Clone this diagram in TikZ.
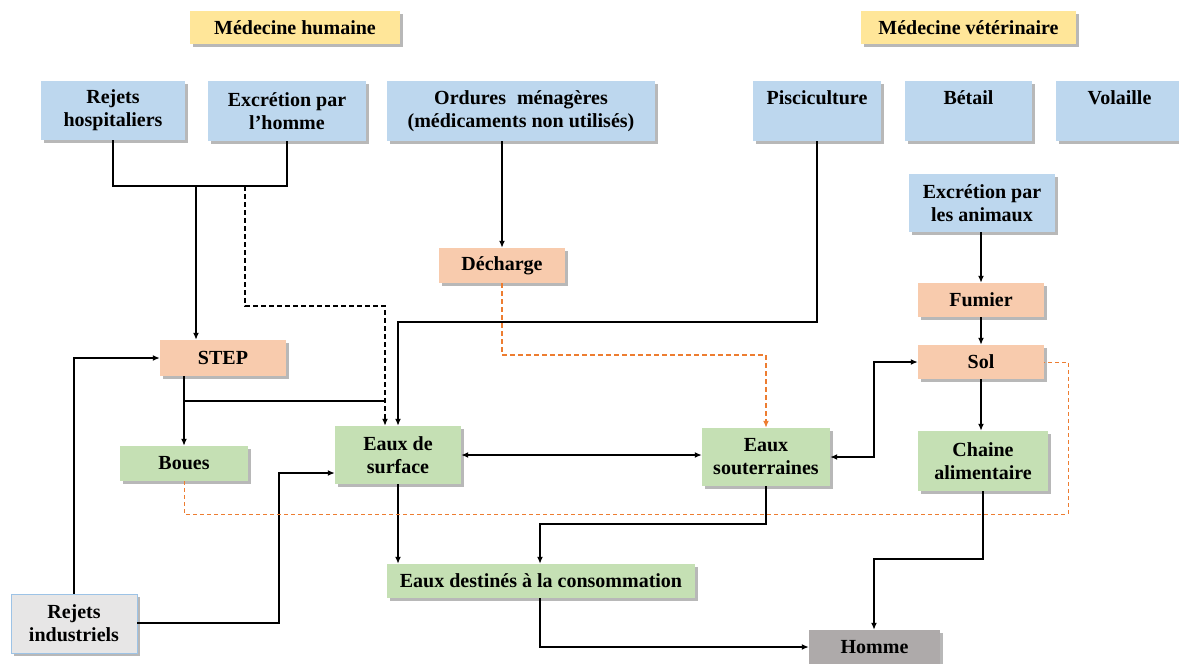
\documentclass[tikz,border=0pt]{standalone}
\usepackage{fontspec}
\setmainfont{Liberation Serif}
\usetikzlibrary{shadows,arrows.meta,calc}
\definecolor{cyellow}{HTML}{FFE699}
\definecolor{cblue}{HTML}{BDD7EE}
\definecolor{corange}{HTML}{F8CBAD}
\definecolor{cgreen}{HTML}{C5E0B4}
\definecolor{cgray}{HTML}{E7E6E6}
\definecolor{cdgray}{HTML}{AEAAAA}
\definecolor{cborder}{HTML}{9DC3E6}
\definecolor{cline}{HTML}{ED7D31}
\newcommand\mybox[7]{\node[box=#2, minimum width={#5-#3}, minimum height={#6-#4}] (#1) at ({(#3+#5)/2},{(#4+#6)/2}) {#7};}
\begin{document}
\begin{tikzpicture}[x=1pt,y=-1pt,
  box/.style={fill=#1, draw=none, inner sep=0pt, align=center,
    font=\bfseries\fontsize{20}{23}\selectfont,
    drop shadow={shadow xshift=3pt, shadow yshift=-3pt, fill=black, opacity=0.28}},
  conn/.style={line width=1.6pt, black},
  arr/.style={conn, -{Latex[length=7pt,width=6pt]}},
  arrtwo/.style={conn, {Latex[length=7pt,width=6pt]}-{Latex[length=7pt,width=6pt]}},
  bdash/.style={conn, dash pattern=on 5pt off 3pt},
  odash/.style={line width=1.6pt, cline, dash pattern=on 5pt off 3pt, -{Latex[length=7pt,width=6pt]}},
  othin/.style={line width=1pt, cline, dash pattern=on 4pt off 3pt}]
\useasboundingbox (0,0) rectangle (1179,664);
\clip (0,0) rectangle (1179,664);
% headers
\mybox{medh}{cyellow}{190}{11}{400}{44}{Médecine humaine}
\mybox{medv}{cyellow}{861}{11}{1076}{44}{Médecine vétérinaire}
% sources
\mybox{hosp}{cblue}{41}{81}{185}{140}{Rejets\\hospitaliers}
\mybox{exh}{cblue}{208}{81}{366}{141}{Excrétion par\\l’homme}
\mybox{ord}{cblue}{387}{81}{655}{141}{Ordures\hspace{0.55em}ménagères\\(médicaments non utilisés)}
\mybox{pisc}{cblue}{753}{81}{881}{141}{Pisciculture\\\phantom{Pg}}
\mybox{bet}{cblue}{905}{81}{1032}{141}{Bétail\\\phantom{Pg}}
\mybox{vol}{cblue}{1056}{81}{1183}{141}{Volaille\\\phantom{Pg}}
\mybox{exa}{cblue}{909}{174}{1055}{232}{Excrétion par\\les animaux}
% intermediates
\mybox{dech}{corange}{439}{248}{565}{283}{Décharge}
\mybox{fum}{corange}{918}{283}{1044}{317}{Fumier}
\mybox{step}{corange}{160}{340}{286}{376}{STEP}
\mybox{sol}{corange}{918}{345}{1044}{379}{Sol}
% waters
\mybox{boues}{cgreen}{120}{446}{248}{481}{Boues}
\mybox{surf}{cgreen}{335}{426}{461}{484}{Eaux de\\surface}
\mybox{sout}{cgreen}{702}{428}{830}{486}{Eaux\\souterraines}
\mybox{chain}{cgreen}{918}{431}{1048}{491}{Chaine\\alimentaire}
\mybox{dest}{cgreen}{387}{564}{695}{598}{Eaux destinés à la consommation}
\node[box=cgray, draw=cborder, line width=0.8pt, minimum width=126pt, minimum height=59pt] (rind) at (74,623.5) {Rejets\\industriels};
\mybox{homme}{cdgray}{809}{630}{940}{664}{Homme}
% coordinates
\coordinate (jy) at (0,186);
\coordinate (j1) at (196,186);
\coordinate (j2) at (245,186);
\coordinate (d1) at (385,306);
\coordinate (d2) at (385,401);
\coordinate (p1) at (398,322);
\coordinate (o2) at (766,355);
\coordinate (r1) at (279,623);
\coordinate (r2) at (279,473);
\coordinate (s1) at (874,0);
\coordinate (c1) at (874,559);
\coordinate (e1) at (540,524);
\coordinate (o1) at (1068,514);
% connectors
\draw[conn] (hosp.south) -- (hosp.south |- jy) -- (exh.south |- jy) -- (exh.south);
\draw[arr] (j1) -- (j1 |- step.north);
\draw[bdash, -{Latex[length=7pt,width=6pt]}] (j2) |- (d1) -- (d1 |- surf.north);
\draw[conn] (boues.north |- step.south) |- (d2);
\draw[arr] (boues.north |- step.south) -- (boues.north);
\draw[arr] (pisc.south) |- (p1) -- (p1 |- surf.north);
\draw[arr] (dech.north |- ord.south) -- (dech.north);
\draw[odash] (dech.south) |- (o2) -- (o2 |- sout.north);
\draw[arr] (rind.north) |- (step.west);
\draw[arr] (rind.east |- r1) -- (r1) -- (r2) -- (r2 -| surf.west);
\draw[arrtwo] (surf.east) -- (surf.east -| sout.west);
\draw[arrtwo] (sout.east) -- (sout.east -| s1) |- (sol.west);
\draw[arr] (exa.south -| fum.north) -- (fum.north);
\draw[arr] (fum.south) -- (sol.north);
\draw[arr] (sol.south) -- (sol.south |- chain.north);
\draw[arr] (chain.south) |- (c1) -- (c1 |- homme.north);
\draw[arr] (surf.south) -- (surf.south |- dest.north);
\draw[arr] (sout.south) |- (e1) -- (e1 |- dest.north);
\draw[arr] (dest.south -| e1) |- (homme.west);
\draw[othin] (boues.south) |- (o1) |- (sol.east);
\end{tikzpicture}
\end{document}
